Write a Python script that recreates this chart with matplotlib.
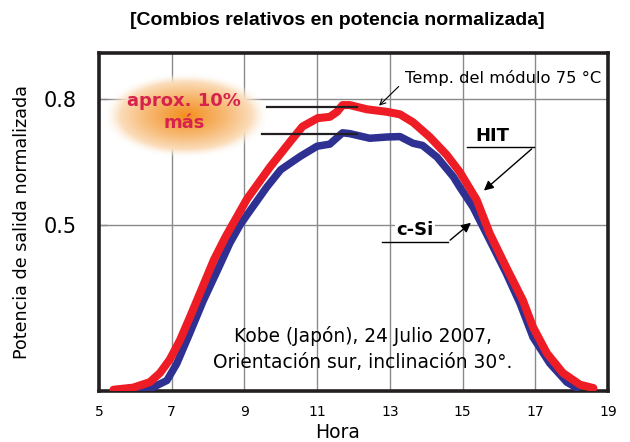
import numpy as np
import matplotlib
matplotlib.use("Agg")
import matplotlib.pyplot as plt

plt.rcParams['font.family'] = ['DejaVu Sans']

# HIT (red) curve
hit_hours = [5.4, 5.94, 6.4, 6.68, 6.95, 7.23, 7.5, 7.78, 8.16, 8.47, 9.07, 9.71, 10.27,
             10.6, 11.02, 11.35, 11.55, 11.7, 11.9, 12.37, 12.92, 13.28, 13.64, 14.1, 14.57,
             14.93, 15.39, 15.75, 16.2, 16.66, 16.94, 17.32, 17.76, 18.23, 18.6]
hit_power = [0.108, 0.113, 0.126, 0.148, 0.18, 0.226, 0.28, 0.338, 0.417, 0.47, 0.562,
             0.639, 0.70, 0.735, 0.755, 0.758, 0.77, 0.786, 0.786, 0.776, 0.77, 0.764, 0.745,
             0.71, 0.667, 0.626, 0.56, 0.48, 0.40, 0.321, 0.257, 0.195, 0.148, 0.12, 0.112]

# c-Si (blue) curve
csi_hours = [5.9, 6.4, 6.87, 7.14, 7.5, 7.87, 8.3, 8.6, 8.88, 9.07, 9.62, 10.0, 10.54, 11.0,
             11.35, 11.7, 11.9, 12.45, 12.92, 13.28, 13.64, 13.9, 14.3, 14.75, 14.93, 15.29,
             15.75, 16.2, 16.58, 16.94, 17.4, 17.87, 18.15]
csi_power = [0.106, 0.11, 0.13, 0.17, 0.243, 0.32, 0.40, 0.457, 0.50, 0.524, 0.591, 0.632,
             0.664, 0.688, 0.693, 0.72, 0.718, 0.707, 0.71, 0.711, 0.695, 0.69, 0.662, 0.615,
             0.59, 0.543, 0.464, 0.386, 0.314, 0.233, 0.171, 0.126, 0.112]

xticks = [5, 7, 9, 11, 13, 15, 17, 19]
yticks = [0.5, 0.8]

fig = plt.figure(figsize=(6.3, 4.42), dpi=100)
ax = fig.add_axes([0.157, 0.1154, 0.808, 0.7646])

ax.set_xlim(5, 19)
ax.set_ylim(0.105, 0.91)

for xv in xticks[1:-1]:
    ax.axvline(xv, color='#8a8a8a', lw=1, zorder=1)
for yv in yticks:
    ax.axhline(yv, color='#8a8a8a', lw=1, zorder=1)

# orange glow (white halo hides the grid) behind the "aprox. 10%" label
n = 240
gx, gy = np.meshgrid(np.linspace(-1, 1, n), np.linspace(-1, 1, n))
r = np.sqrt(gx ** 2 + gy ** 2)
w = np.clip(1 - r, 0, 1) ** 0.75
orange = np.array([0.95, 0.56, 0.12])
img = np.ones((n, n, 4))
for c in range(3):
    img[..., c] = orange[c] * w + 1.0 * (1 - w)
img[..., 3] = np.clip((1 - r) / 0.2, 0, 1)
ax.imshow(img, extent=(5.11, 9.65, 0.66, 0.862), aspect='auto', zorder=2,
          interpolation='bilinear')
ax.text(7.35, 0.769, 'aprox. 10%\nmás', color='#d6224d', fontsize=13, fontweight='bold',
        ha='center', va='center', linespacing=1.25, zorder=3)

ax.plot(csi_hours, csi_power, color='#2e3192', lw=5.4, solid_joinstyle='round',
        solid_capstyle='round', zorder=4)
ax.plot(hit_hours, hit_power, color='#ee1c25', lw=5.8, solid_joinstyle='round',
        solid_capstyle='round', zorder=5)

# reference lines for the 10 % gap
ax.plot([9.62, 12.09], [0.781, 0.781], color='#231f20', lw=1.6, zorder=6)
ax.plot([9.48, 12.09], [0.717, 0.717], color='#231f20', lw=1.6, zorder=6)

ax.annotate('', xy=(12.65, 0.78), xytext=(13.3, 0.835),
            arrowprops=dict(arrowstyle='->', color='black', lw=0.8), zorder=6)
ax.text(13.42, 0.85, 'Temp. del módulo 75 °C', fontsize=11.8, ha='left', va='center', zorder=6)

ax.text(15.82, 0.712, 'HIT', fontsize=13, fontweight='bold', ha='center', va='center', zorder=6)
ax.plot([15.12, 16.96], [0.686, 0.686], color='black', lw=1, zorder=6)
ax.annotate('', xy=(15.53, 0.578), xytext=(16.96, 0.686),
            arrowprops=dict(arrowstyle='-|>', color='black', lw=1, mutation_scale=14), zorder=6)

ax.text(13.69, 0.488, 'c-Si', fontsize=13, fontweight='bold', ha='center', va='center',
        zorder=6, bbox=dict(facecolor='white', edgecolor='none', pad=1))
ax.plot([12.78, 14.6], [0.46, 0.46], color='black', lw=1, zorder=6)
ax.annotate('', xy=(15.29, 0.51), xytext=(14.6, 0.46),
            arrowprops=dict(arrowstyle='-|>', color='black', lw=1, mutation_scale=14), zorder=6)

ax.text(12.26, 0.205, 'Kobe (Japón), 24 Julio 2007,\nOrientación sur, inclinación 30°.',
        fontsize=13.4, ha='center', va='center', linespacing=1.5, zorder=6)

ax.set_xticks(xticks)
ax.set_yticks(yticks)
ax.set_yticklabels(['0.5', '0.8'], fontsize=15)
ax.set_xticklabels([str(v) for v in xticks], fontsize=10)
ax.tick_params(axis='x', length=0, pad=10)
ax.tick_params(axis='y', direction='in', length=6, width=1, color='#8a8a8a', pad=16)

for s in ax.spines.values():
    s.set_linewidth(2.6)
    s.set_color('#231f20')

ax.set_xlabel('Hora', fontsize=13.5, labelpad=2)
ax.xaxis.set_label_coords(0.468, -0.095)
ax.set_ylabel('Potencia de salida normalizada', fontsize=12.6, labelpad=9)

fig.text(0.535, 0.953, '[Combios relativos en potencia normalizada]',
         fontsize=14, fontweight='bold', ha='center', va='center',
         family=['Liberation Sans', 'DejaVu Sans'])

fig.savefig('out.png', dpi=100)
